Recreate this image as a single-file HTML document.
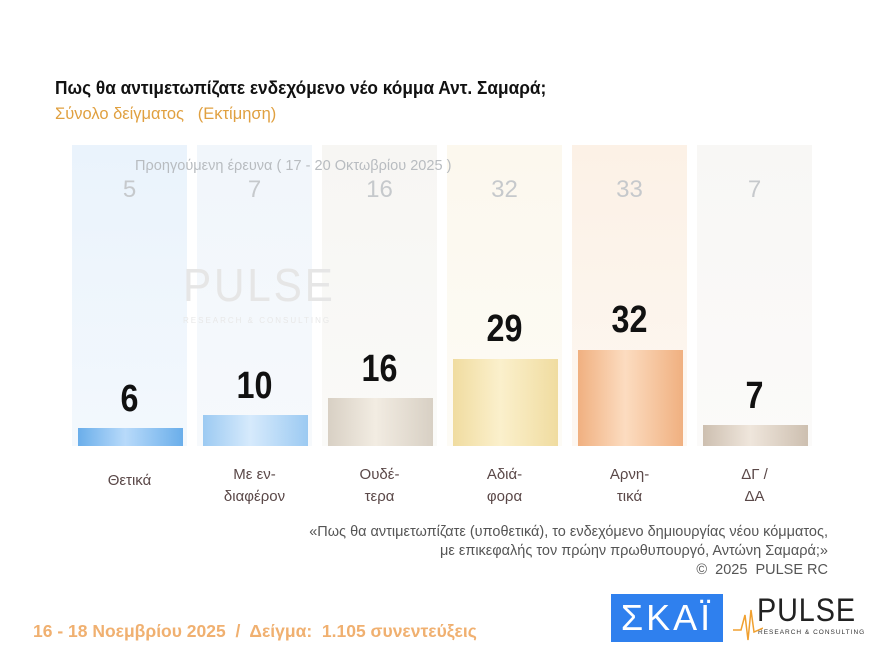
<!DOCTYPE html><html><head><meta charset="utf-8"><style>
body{margin:0;width:880px;height:660px;background:#fff;position:relative;overflow:hidden;font-family:"Liberation Sans",sans-serif}
.a{position:absolute}
.col{position:absolute;top:145px;height:301px;width:115px}
.bar{position:absolute;width:105px}
.v{position:absolute;width:115px;text-align:center;font-weight:bold;font-size:38px;color:#111;transform:scaleX(.85)}
.p{position:absolute;width:115px;text-align:center;font-size:24px;color:#c6c9cc;top:176px}
.l{position:absolute;width:115px;text-align:center;font-size:15px;color:#5a4848;line-height:22px;top:464px}
</style></head><body>
<div class="a" style="left:55px;top:78px;font-size:18px;font-weight:bold;color:#111;transform:scaleX(.96);transform-origin:left;white-space:nowrap">Πως θα αντιμετωπίζατε ενδεχόμενο νέο κόμμα Αντ. Σαμαρά;</div>
<div class="a" style="left:55px;top:105px;font-size:16.5px;color:#e0a040">Σύνολο δείγματος &nbsp;&nbsp;(Εκτίμηση)</div>

<div class="col" style="left:72px;background:linear-gradient(#eaf3fc,#f3f8fd)"></div>
<div class="col" style="left:197px;background:linear-gradient(#f1f6fb,#f6f9fc)"></div>
<div class="col" style="left:322px;background:linear-gradient(#f7f6f3,#fafaf8)"></div>
<div class="col" style="left:447px;background:linear-gradient(#fcf8ee,#fdfbf5)"></div>
<div class="col" style="left:572px;background:linear-gradient(#fcf1e6,#fdf7f1)"></div>
<div class="col" style="left:697px;background:linear-gradient(#f8f7f5,#fbfaf9)"></div>

<div class="a" style="left:135px;top:157px;font-size:15px;color:#b8bcc0;transform:scaleX(.97);transform-origin:left">Προηγούμενη έρευνα ( 17 - 20 Οκτωβρίου 2025 )</div>
<div class="a" style="left:183px;top:258px;font-size:46px;color:#e6e6e6;letter-spacing:3px;transform:scaleX(.92);transform-origin:left">PULSE</div>
<div class="a" style="left:183px;top:316px;font-size:8px;color:#e8e8e8;letter-spacing:2px">RESEARCH &amp; CONSULTING</div>

<div class="p" style="left:72px">5</div><div class="p" style="left:197px">7</div><div class="p" style="left:322px">16</div><div class="p" style="left:447px">32</div><div class="p" style="left:572px">33</div><div class="p" style="left:697px">7</div>

<div class="bar" style="left:78px;top:428px;height:18px;background:linear-gradient(90deg,#6aaeea,#b8dafa 45%,#6aaeea)"></div>
<div class="bar" style="left:203px;top:415px;height:31px;background:linear-gradient(90deg,#9ccaf2,#d6eafc 45%,#9ccaf2)"></div>
<div class="bar" style="left:328px;top:398px;height:48px;background:linear-gradient(90deg,#d8d0c4,#f2ece2 45%,#d8d0c4)"></div>
<div class="bar" style="left:453px;top:359px;height:87px;background:linear-gradient(90deg,#f0dca0,#fbf0cc 45%,#f0dca0)"></div>
<div class="bar" style="left:578px;top:350px;height:96px;background:linear-gradient(90deg,#f0b080,#fcdcc0 45%,#f0b080)"></div>
<div class="bar" style="left:703px;top:425px;height:21px;background:linear-gradient(90deg,#cdbfb0,#efe6dc 45%,#cdbfb0)"></div>

<div class="v" style="left:72px;top:378px">6</div>
<div class="v" style="left:197px;top:365px">10</div>
<div class="v" style="left:322px;top:348px">16</div>
<div class="v" style="left:447px;top:308px">29</div>
<div class="v" style="left:572px;top:299px">32</div>
<div class="v" style="left:697px;top:375px">7</div>

<div class="l" style="left:72px;top:470px">Θετικά</div>
<div class="l" style="left:197px">Με εν-<br>διαφέρον</div>
<div class="l" style="left:322px">Ουδέ-<br>τερα</div>
<div class="l" style="left:447px">Αδιά-<br>φορα</div>
<div class="l" style="left:572px">Αρνη-<br>τικά</div>
<div class="l" style="left:697px">ΔΓ /<br>ΔΑ</div>

<div class="a" style="right:52px;top:523px;text-align:right;font-size:14.5px;color:#555;line-height:19px">«Πως θα αντιμετωπίζατε (υποθετικά), το ενδεχόμενο δημιουργίας νέου κόμματος,<br>με επικεφαλής τον πρώην πρωθυπουργό, Αντώνη Σαμαρά;»<br>©&nbsp; 2025&nbsp; PULSE RC</div>

<div class="a" style="left:33px;top:621px;font-size:17.5px;font-weight:bold;color:#f0b070;white-space:nowrap">16 - 18 Νοεμβρίου 2025&nbsp; /&nbsp; Δείγμα:&nbsp; 1.105 συνεντεύξεις</div>

<div class="a" style="left:611px;top:594px;width:112px;height:48px;background:#2f80ee;color:#fff;font-size:36px;text-align:center;line-height:48px;letter-spacing:3px">ΣΚΑΪ</div>
<div class="a" style="left:757px;top:592px;font-size:32px;color:#222;letter-spacing:1px;transform:scaleX(.9);transform-origin:left">PULSE</div>
<div class="a" style="left:758px;top:629px;font-size:6.5px;color:#333;letter-spacing:1px">RESEARCH &amp; CONSULTING</div>
<svg class="a" style="left:733px;top:600px" width="30" height="45"><polyline points="0,30 8,30 12,15 15,40 18,10 21,32 30,28" fill="none" stroke="#f0a030" stroke-width="1.5"/></svg>
</body></html>
